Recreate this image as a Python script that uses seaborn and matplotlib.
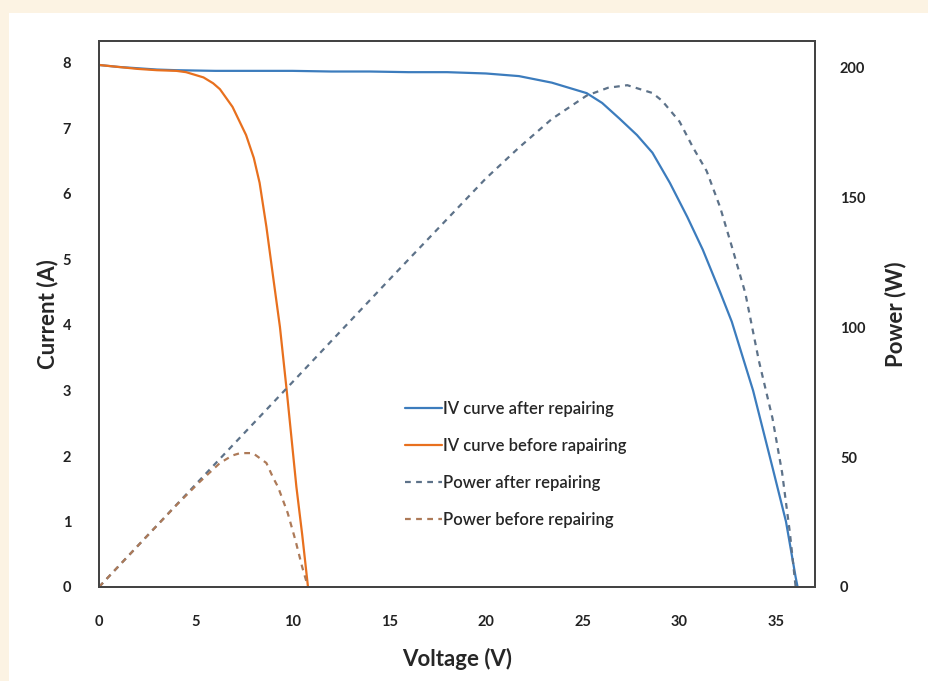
import numpy as np
import pandas as pd
import seaborn as sns
from matplotlib import pyplot as plt
from matplotlib.patches import Rectangle

# IV curve after repairing
v_after = [0, 1, 2, 3, 4, 6, 8, 10, 12, 14, 16, 18, 20, 21.7, 23.4, 25.2, 26.0,
           26.9, 27.8, 28.6, 29.5, 30.4, 31.2, 32.1, 32.7, 33.8, 34.8, 35.5, 36.0, 36.1]
i_after = [7.97, 7.94, 7.92, 7.90, 7.89, 7.88, 7.88, 7.88, 7.87, 7.87, 7.86, 7.86, 7.84,
           7.80, 7.70, 7.54, 7.39, 7.15, 6.90, 6.63, 6.17, 5.65, 5.15, 4.50, 4.05, 3.0,
           1.83, 1.0, 0.15, 0.0]

# IV curve before repairing
v_before = [0, 1, 2, 3, 4, 4.5, 5.4, 5.9, 6.25, 6.9, 7.6, 8.0, 8.3, 8.65, 9.0, 9.35,
            9.7, 10.2, 10.5, 10.8]
i_before = [7.97, 7.94, 7.91, 7.89, 7.88, 7.86, 7.78, 7.69, 7.60, 7.33, 6.9, 6.55, 6.17,
            5.5, 4.73, 3.97, 3.0, 1.53, 0.8, 0.0]

# power curves
vp_after = [0, 5, 10, 15, 20, 21.7, 23.4, 25.2, 26.3, 27.3, 28.6, 29.1, 30.0, 30.7, 31.4,
            32.1, 32.7, 33.4, 34.1, 34.8, 35.3, 35.7, 36.0]
p_after = [0, 39.5, 78.8, 118.2, 157.2, 169, 180, 189, 192, 193, 190, 187, 179, 169, 160,
           146, 131, 113, 87, 65, 44, 21, 0]

vp_before = [0, 2, 4, 5.2, 6.25, 6.9, 7.3, 7.95, 8.65, 9.0, 9.25, 9.75, 10.15, 10.5, 10.8]
p_before = [0, 15.8, 31.5, 40.4, 47.7, 50.6, 51.5, 51.5, 47.7, 42, 38.5, 28.5, 18, 7.7, 0]

x_ticks = [0, 5, 10, 15, 20, 25, 30, 35]
i_ticks = [0, 1, 2, 3, 4, 5, 6, 7, 8]
p_ticks = [0, 50, 100, 150, 200]

blue = '#3c7cbd'
orange = '#e8701e'
blue_dash = '#5d7289'
orange_dash = '#ad7a58'

sns.set_style('white')
plt.rcParams['font.family'] = ['Lato', 'DejaVu Sans']

fig = plt.figure(figsize=(9.29, 6.81), dpi=100)
fig.patch.set_facecolor('#fcf3e3')
fig.patches.append(Rectangle((9 / 929, 0), 1, 1 - 13 / 681, transform=fig.transFigure,
                             facecolor='white', edgecolor='none', zorder=-10))

ax = fig.add_axes([99 / 929, 1 - 587 / 681, (815 - 99) / 929, (587 - 41) / 681])
ax2 = ax.twinx()

df_a = pd.DataFrame({'V': v_after, 'I': i_after})
df_b = pd.DataFrame({'V': v_before, 'I': i_before})
dp_a = pd.DataFrame({'V': vp_after, 'P': p_after})
dp_b = pd.DataFrame({'V': vp_before, 'P': p_before})

sns.lineplot(data=df_a, x='V', y='I', ax=ax, color=blue, lw=1.6, sort=False,
             label='IV curve after repairing', legend=False)
sns.lineplot(data=df_b, x='V', y='I', ax=ax, color=orange, lw=1.6, sort=False,
             label='IV curve before rapairing', legend=False)
sns.lineplot(data=dp_a, x='V', y='P', ax=ax2, color=blue_dash, lw=1.6, sort=False,
             dashes=False, label='Power after repairing', legend=False)
sns.lineplot(data=dp_b, x='V', y='P', ax=ax2, color=orange_dash, lw=1.6, sort=False,
             dashes=False, label='Power before repairing', legend=False)
for ln in ax2.get_lines():
    ln.set_linestyle((0, (2.6, 2.4)))

ax.set_xlim(0, 37)
ax.set_ylim(0, (587 - 41) / 65.5)
ax2.set_ylim(0, (587 - 41) / 2.6)
ax.set_xticks(x_ticks)
ax.set_yticks(i_ticks)
ax2.set_yticks(p_ticks)

for a in (ax, ax2):
    for s in a.spines.values():
        s.set_color('#444444')
        s.set_linewidth(1.4)
    a.tick_params(length=0, labelsize=10.5, labelcolor='#222222')
    for lab in a.get_xticklabels() + a.get_yticklabels():
        lab.set_fontweight('bold')
ax.tick_params(axis='x', pad=20)
ax.tick_params(axis='y', pad=20)
ax2.tick_params(axis='y', pad=18)

ax.set_xlabel('Voltage (V)', fontsize=16, fontweight='bold', labelpad=14)
ax.set_ylabel('Current (A)', fontsize=16, fontweight='bold', labelpad=3)
ax2.set_ylabel('Power (W)', fontsize=16, fontweight='bold', labelpad=14)

h1, l1 = ax.get_legend_handles_labels()
h2, l2 = ax2.get_legend_handles_labels()
ax.legend(h1 + h2, l1 + l2, loc='upper left', bbox_to_anchor=(390 / 929, 1 - 386 / 681),
          bbox_transform=fig.transFigure, frameon=False,
          prop={'family': ['Lato', 'DejaVu Sans'], 'size': 12, 'weight': 'semibold'},
          handlelength=2.2, handletextpad=0.08, labelspacing=1.25)

plt.savefig('out.png', dpi=100, facecolor=fig.get_facecolor())
